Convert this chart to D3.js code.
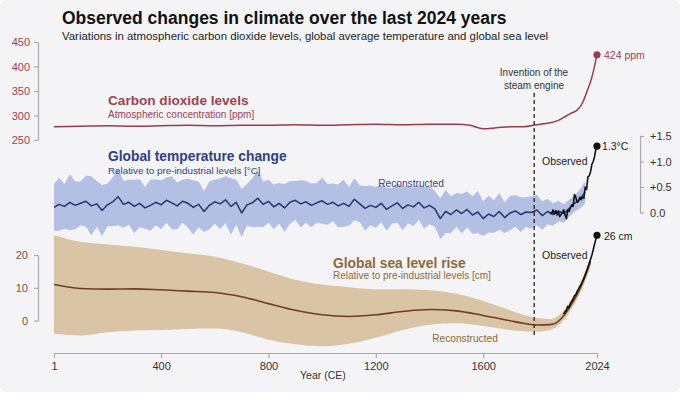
<!DOCTYPE html>
<html>
<head>
<meta charset="utf-8">
<script src="https://cdn.jsdelivr.net/npm/d3@7"></script>
<style>
html,body{margin:0;padding:0;background:#ffffff;}
svg{display:block;font-family:"Liberation Sans",Arial,Helvetica,sans-serif;}
</style>
</head>
<body>
<svg id="chart" width="680" height="400"></svg>
<script>
// ---------------- DATA ----------------
const xTicks = [1, 400, 800, 1200, 1600, 2024];
const co2Ticks = [250, 300, 350, 400, 450];
const tempTicks = [0, 0.5, 1.0, 1.5];
const seaTicks = [0, 10, 20];

// Atmospheric CO2 (ppm)
const co2Years = [1,100,200,300,400,500,600,700,800,900,1000,1100,1200,1300,1400,1500,1550,1600,1650,1700,1750,1800,1825,1850,1875,1900,1925,1950,1960,1970,1980,1990,2000,2010,2020,2024];
const co2Values = [277,278,279,278,279,280,279,280,280,281,280,281,282,281,282,282,280,273,275,277,277,281,283,285,289,296,304,311,317,326,339,354,369,389,414,424];

// Reconstructed temperature (°C, relative to pre-industrial), 20-year steps
const tempReconYears = [1,20,40,60,80,100,120,140,160,180,200,220,240,260,280,300,320,340,360,380,400,420,440,460,480,500,520,540,560,580,600,620,640,660,680,700,720,740,760,780,800,820,840,860,880,900,920,940,960,980,1000,1020,1040,1060,1080,1100,1120,1140,1160,1180,1200,1220,1240,1260,1280,1300,1320,1340,1360,1380,1400,1420,1440,1460,1480,1500,1520,1540,1560,1580,1600,1620,1640,1660,1680,1700,1720,1740,1760,1780,1800,1820,1840,1860,1880,1900,1920,1940,1960,1980];
const tempRecon = [0.10,0.16,0.12,0.20,0.14,0.18,0.22,0.13,0.17,0.04,0.15,0.21,0.31,0.16,0.20,0.12,0.18,0.09,0.14,0.20,
  0.15,0.24,0.19,0.13,0.22,0.18,0.10,0.16,0.02,0.14,0.21,0.17,0.25,0.12,0.20,-0.01,0.15,0.19,0.28,0.16,
  0.22,0.11,0.18,0.09,0.20,0.24,0.17,0.21,0.14,0.19,0.23,0.16,0.20,0.13,0.18,0.12,0.26,0.17,0.08,0.14,
  0.10,0.18,0.06,0.13,0.19,0.08,0.15,0.11,0.20,0.09,0.14,0.07,-0.12,0.02,-0.04,0.05,-0.02,0.06,-0.05,0.01,
  -0.12,-0.03,-0.08,0.02,-0.10,-0.01,0.03,-0.04,0.01,0.00,0.05,-0.06,0.02,-0.04,0.03,-0.02,0.08,0.18,0.26,0.40];
// Half-width of the reconstruction uncertainty band (°C)
const tempSpread = [0.46,0.52,0.44,0.55,0.47,0.43,0.50,0.58,0.45,0.50,0.42,0.48,0.56,0.46,0.44,0.52,0.47,0.41,0.50,0.45,
  0.48,0.44,0.52,0.46,0.42,0.48,0.53,0.45,0.40,0.47,0.43,0.50,0.46,0.55,0.44,0.47,0.41,0.48,0.56,0.45,
  0.42,0.44,0.40,0.47,0.42,0.38,0.46,0.41,0.43,0.39,0.45,0.40,0.37,0.42,0.46,0.38,0.41,0.36,0.44,0.39,
  0.40,0.37,0.42,0.35,0.39,0.43,0.36,0.38,0.34,0.41,0.37,0.35,0.40,0.42,0.36,0.33,0.39,0.35,0.37,0.41,
  0.34,0.36,0.32,0.36,0.30,0.34,0.31,0.34,0.29,0.32,0.30,0.28,0.25,0.22,0.20,0.18,0.17,0.16,0.18,0.22];

// Observed temperature (°C)
const tempObsYears = [1850,1855,1860,1865,1870,1875,1880,1885,1890,1895,1900,1905,1910,1915,1920,1925,1930,1935,1940,1945,1950,1955,1960,1965,1970,1975,1980,1985,1990,1995,2000,2005,2010,2015,2020,2024];
const tempObs = [0.00,-0.02,0.05,-0.03,0.04,-0.05,0.02,-0.08,-0.04,0.00,0.05,-0.05,-0.12,0.05,0.02,0.10,0.15,0.12,0.35,0.30,0.20,0.22,0.30,0.25,0.30,0.28,0.50,0.45,0.70,0.72,0.80,0.95,1.00,1.10,1.25,1.30];

// Reconstructed sea level (cm)
const seaReconYears = [1,100,200,300,400,500,600,700,800,900,1000,1100,1200,1300,1400,1500,1600,1700,1750,1800,1850,1875,1900,1925,1950,1975,2000];
const seaRecon = [11.0,9.8,9.6,9.7,9.4,9.0,8.6,7.3,5.2,3.2,1.8,1.3,1.8,2.8,3.4,3.0,1.6,0.0,-0.8,-1.3,-1.2,-0.5,1.5,4.5,8.0,12.5,18.0];
const seaUpper = [26.0,24.0,23.2,22.5,21.5,20.5,19.5,17.5,15.0,12.5,11.0,10.2,9.6,9.6,9.3,8.2,6.0,3.2,1.8,0.8,0.5,1.2,3.0,6.0,9.5,14.0,19.5];
const seaLower = [-4.0,-4.5,-3.5,-3.0,-2.8,-2.5,-2.4,-3.5,-5.8,-7.2,-7.8,-7.0,-5.2,-2.8,-1.2,-0.8,-1.6,-2.8,-3.2,-3.3,-2.8,-1.8,0.2,3.0,6.5,11.0,16.5];

// Observed sea level (cm)
const seaObsYears = [1900,1905,1910,1915,1920,1925,1930,1935,1940,1945,1950,1955,1960,1965,1970,1975,1980,1985,1990,1995,2000,2005,2010,2015,2020,2024];
const seaObs = [2.0,2.8,3.2,4.4,4.0,5.3,5.9,6.6,7.6,7.9,8.9,9.6,10.4,11.0,12.0,12.9,14.0,15.0,16.3,17.5,18.7,20.0,21.6,23.3,24.9,26.0];

const steamYear = 1790;

// ---------------- CHART ----------------
const svg = d3.select("#chart");
svg.append("rect").attr("x",0).attr("y",0).attr("width",680).attr("height",392).attr("rx",6).attr("fill","#f4f4f6");

const x = d3.scaleLinear().domain([1, 2024]).range([54, 597]);
const yCO2 = d3.scaleLinear().domain([250, 450]).range([140, 42]);
const yT = d3.scaleLinear().domain([0, 1.5]).range([212.5, 136]);
const yS = d3.scaleLinear().domain([0, 20]).range([320.7, 255]);

const COL = {
  co2: "#9b3a4b", co2Text:"#9e4252",
  tLine: "#29346f", tBand: "#b3bfe3", tText: "#2f3f86",
  sLine: "#6e3f1e", sBand: "#dac4a6", sText: "#8a6a3c",
  axis: "#a8a8ae"
};

// Sea level band + line
const seaIdx = d3.range(seaReconYears.length);
svg.append("path")
  .attr("d", d3.area().curve(d3.curveMonotoneX)
    .x(i => x(seaReconYears[i])).y0(i => yS(seaLower[i])).y1(i => yS(seaUpper[i]))(seaIdx))
  .attr("fill", COL.sBand);
svg.append("path")
  .attr("d", d3.line().curve(d3.curveMonotoneX)
    .x(i => x(seaReconYears[i])).y(i => yS(seaRecon[i]))(seaIdx))
  .attr("fill","none").attr("stroke",COL.sLine).attr("stroke-width",1.6);

// Temperature band + line
const tIdx = d3.range(tempReconYears.length);
svg.append("path")
  .attr("d", d3.area()
    .x(i => x(tempReconYears[i])).y0(i => yT(tempRecon[i]-tempSpread[i])).y1(i => yT(tempRecon[i]+tempSpread[i]))(tIdx))
  .attr("fill", COL.tBand);
svg.append("path")
  .attr("d", d3.line().x(i => x(tempReconYears[i])).y(i => yT(tempRecon[i]))(tIdx))
  .attr("fill","none").attr("stroke",COL.tLine).attr("stroke-width",1.5).attr("stroke-linejoin","round");

// CO2 line
const cIdx = d3.range(co2Years.length);
svg.append("path")
  .attr("d", d3.line().curve(d3.curveMonotoneX).x(i => x(co2Years[i])).y(i => yCO2(co2Values[i]))(cIdx))
  .attr("fill","none").attr("stroke",COL.co2).attr("stroke-width",1.5);

// Observed lines
const toIdx = d3.range(tempObsYears.length);
svg.append("path")
  .attr("d", d3.line().x(i => x(tempObsYears[i])).y(i => yT(tempObs[i]))(toIdx))
  .attr("fill","none").attr("stroke","#111").attr("stroke-width",1.6).attr("stroke-linejoin","round");
const soIdx = d3.range(seaObsYears.length);
svg.append("path")
  .attr("d", d3.line().x(i => x(seaObsYears[i])).y(i => yS(seaObs[i]))(soIdx))
  .attr("fill","none").attr("stroke","#111").attr("stroke-width",1.6).attr("stroke-linejoin","round");

// Steam engine dashed line
svg.append("line")
  .attr("x1", x(steamYear)).attr("x2", x(steamYear)).attr("y1", 93).attr("y2", 338)
  .attr("stroke","#222").attr("stroke-width",1.3).attr("stroke-dasharray","4,3");

// End dots
const lastCO2 = co2Values[co2Values.length-1];
const lastT = tempObs[tempObs.length-1];
const lastS = seaObs[seaObs.length-1];
svg.append("circle").attr("cx", x(2024)).attr("cy", yCO2(lastCO2)).attr("r",3.6).attr("fill",COL.co2);
svg.append("circle").attr("cx", x(2024)).attr("cy", yT(lastT)).attr("r",3.6).attr("fill","#111");
svg.append("circle").attr("cx", x(2024)).attr("cy", yS(lastS)).attr("r",3.6).attr("fill","#111");

// Axes
function styleAxis(g, textColor){
  g.select(".domain").attr("stroke", COL.axis).attr("stroke-width",1.2);
  g.selectAll(".tick line").attr("stroke", COL.axis).attr("stroke-width",1.2);
  g.selectAll(".tick text").attr("fill", textColor).style("font-size","11px").style("font-family","'Liberation Sans',Arial,sans-serif");
}
const gCO2 = svg.append("g").attr("transform","translate(38,0)")
  .call(d3.axisLeft(yCO2).tickValues(co2Ticks).tickSize(4).tickSizeOuter(0).tickPadding(4));
styleAxis(gCO2, COL.co2Text);
const gSea = svg.append("g").attr("transform","translate(38,0)")
  .call(d3.axisLeft(yS).tickValues(seaTicks).tickSize(4).tickSizeOuter(0).tickPadding(6));
styleAxis(gSea, "#6a5844");
const gT = svg.append("g").attr("transform","translate(640,0)")
  .call(d3.axisRight(yT).tickValues(tempTicks).tickSize(4).tickSizeOuter(0).tickPadding(6)
    .tickFormat(d => d === 0 ? "0.0" : "+" + d3.format(".1f")(d)));
styleAxis(gT, "#333");
const gX = svg.append("g").attr("transform","translate(0,353)")
  .call(d3.axisBottom(x).tickValues(xTicks).tickSize(5).tickSizeOuter(0).tickPadding(4).tickFormat(d3.format("d")));
styleAxis(gX, "#333");

// Texts
function txt(s, px, py, size, color, weight, anchor){
  return svg.append("text").attr("x",px).attr("y",py).text(s)
    .attr("font-size",size).attr("fill",color).attr("font-weight",weight||"normal")
    .attr("text-anchor",anchor||"start");
}
txt("Observed changes in climate over the last 2024 years", 62, 24, 17.5, "#111", "bold");
txt("Variations in atmospheric carbon dioxide levels, global average temperature and global sea level", 62, 40, 11.4, "#222");

txt("Carbon dioxide levels", 108, 105, 13.6, COL.co2Text, "bold");
txt("Atmospheric concentration [ppm]", 108, 118, 10, COL.co2Text);
txt("424 ppm", 604, 59, 10.5, COL.co2Text);

txt("Global temperature change", 108, 161, 13.8, COL.tText, "bold");
txt("Relative to pre-industrial levels [°C]", 108, 174, 9.8, COL.tText);
txt("Reconstructed", 411, 187, 10.2, "#3a4a82", "normal", "middle");
txt("Observed", 542, 165, 10.5, "#222");
txt("1.3°C", 602, 150, 10.5, "#222");

txt("Invention of the", 534, 76, 10, "#333", "normal", "middle");
txt("steam engine", 534, 89, 10, "#333", "normal", "middle");

txt("Global sea level rise", 333, 268, 13.8, COL.sText, "bold");
txt("Relative to pre-industrial levels [cm]", 333, 279, 10, COL.sText);
txt("Observed", 542, 259, 10.5, "#222");
txt("26 cm", 604, 240, 10.5, "#222");
txt("Reconstructed", 465, 342, 10.2, COL.sText, "normal", "middle");

txt("Year (CE)", 300, 379, 10.5, "#333");
</script>
</body>
</html>
